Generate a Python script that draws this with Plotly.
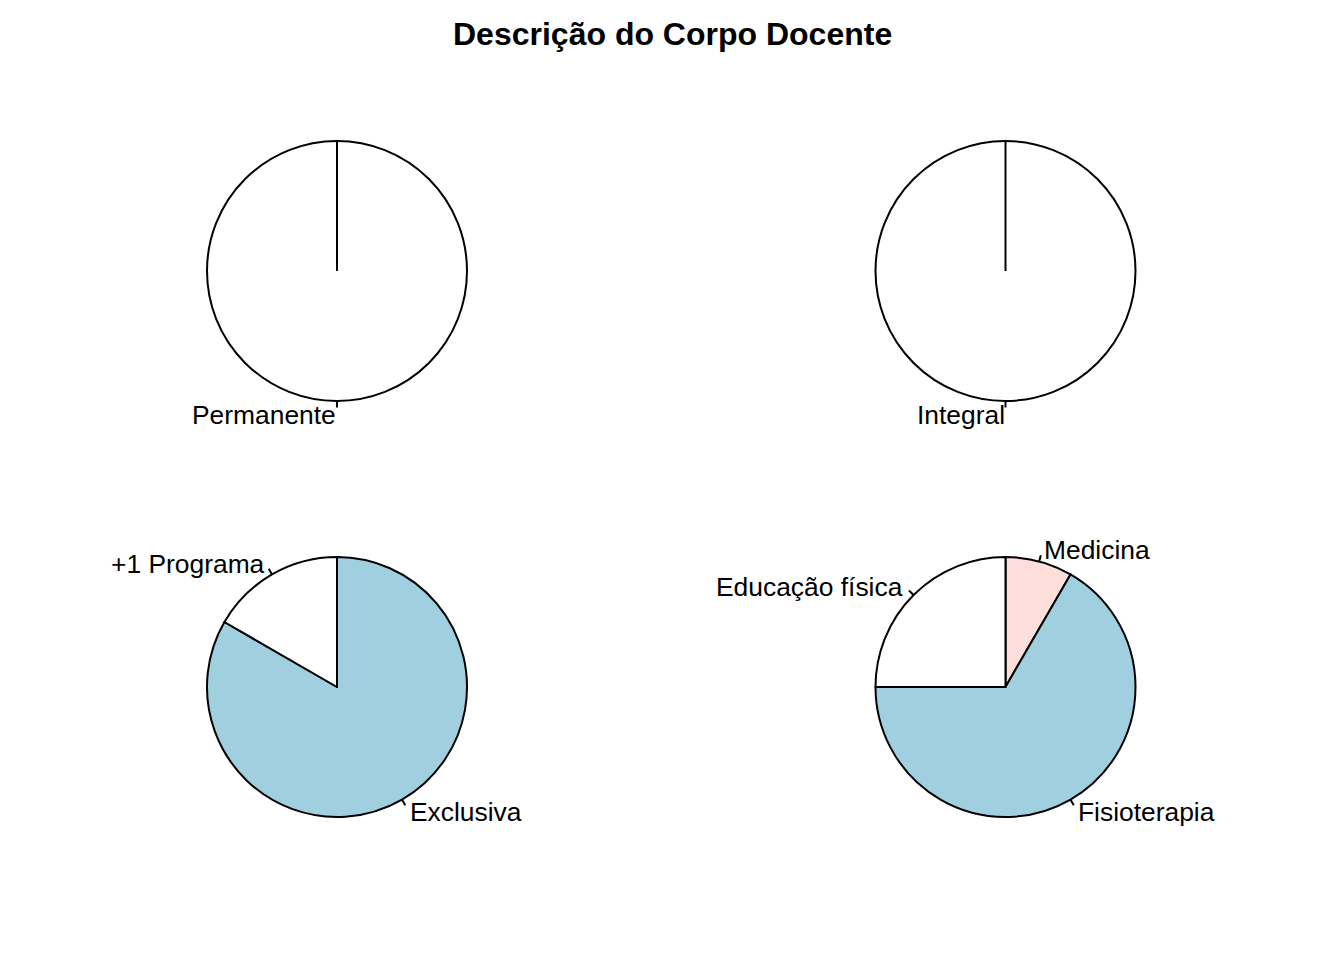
import math
import plotly.graph_objects as go

W, H = 1344, 960

title = "Descrição do Corpo Docente"

# Pie data (in drawing order, counterclockwise from 12 o'clock)
labels_perm = ["Permanente"]
values_perm = [12]
colors_perm = ["#FFFFFF"]

labels_reg = ["Integral"]
values_reg = [12]
colors_reg = ["#FFFFFF"]

labels_prog = ["+1 Programa", "Exclusiva"]
values_prog = [2, 10]
colors_prog = ["#FFFFFF", "#A0CFE0"]

labels_form = ["Educação física", "Fisioterapia", "Medicina"]
values_form = [3, 8, 1]
colors_form = ["#FFFFFF", "#A0CFE0", "#FDDEDB"]

# layout of the 2x2 panel (pixel centres and radius)
centers = [(337, 271), (1005.5, 271), (337, 687), (1005.5, 687)]
R = 130
LW = 2
FONT = "Liberation Sans, Arial, sans-serif"
LABEL_SIZE = 26.4
TITLE_SIZE = 32

pies = [
    (labels_perm, values_perm, colors_perm),
    (labels_reg, values_reg, colors_reg),
    (labels_prog, values_prog, colors_prog),
    (labels_form, values_form, colors_form),
]

fig = go.Figure()
shapes = []
annotations = []


def px(x, y):
    return x / W, 1 - y / H


for (labs, vals, cols), (cx, cy) in zip(pies, centers):
    # counterclockwise from 12 o'clock == clockwise from 12 o'clock in reverse order
    fig.add_trace(go.Pie(
        labels=labs[::-1], values=vals[::-1], sort=False,
        direction="clockwise", rotation=0,
        marker=dict(colors=cols[::-1], line=dict(color="black", width=LW)),
        textinfo="none", hoverinfo="label+value", showlegend=False,
        domain=dict(x=[(cx - R) / W, (cx + R) / W],
                    y=[1 - (cy + R) / H, 1 - (cy - R) / H]),
    ))
    total = sum(vals)
    if len(vals) == 1:
        # slice border at the starting angle (12 o'clock)
        x0, y0 = px(cx, cy)
        x1, y1 = px(cx, cy - R)
        shapes.append(dict(type="line", xref="paper", yref="paper",
                           x0=x0, y0=y0, x1=x1, y1=y1,
                           line=dict(color="black", width=LW)))
    cum = 0
    for lab, v in zip(labs, vals):
        mid = math.radians(90 + 360 * (cum + v / 2) / total)
        cum += v
        c, s = math.cos(mid), math.sin(mid)
        x0, y0 = px(cx + R * c, cy - R * s)
        x1, y1 = px(cx + 1.05 * R * c, cy - 1.05 * R * s)
        shapes.append(dict(type="line", xref="paper", yref="paper",
                           x0=x0, y0=y0, x1=x1, y1=y1,
                           line=dict(color="black", width=LW)))
        tx, ty = px(cx + 1.1 * R * c, cy - 1.1 * R * s + 1)
        annotations.append(dict(
            x=tx, y=ty, xref="paper", yref="paper", text=lab,
            showarrow=False, xanchor="left" if c > 1e-9 else "right",
            yanchor="middle", borderpad=0,
            font=dict(family=FONT, size=LABEL_SIZE, color="black")))

annotations.append(dict(
    x=0.5, y=1 - 34 / H, xref="paper", yref="paper",
    text="<b>" + title + "</b>", showarrow=False,
    xanchor="center", yanchor="middle",
    font=dict(family=FONT, size=TITLE_SIZE, color="black")))

fig.update_layout(
    width=W, height=H,
    margin=dict(l=0, r=0, t=0, b=0),
    paper_bgcolor="white", plot_bgcolor="white",
    shapes=shapes, annotations=annotations,
    showlegend=False,
)

fig.write_html("out.html")
